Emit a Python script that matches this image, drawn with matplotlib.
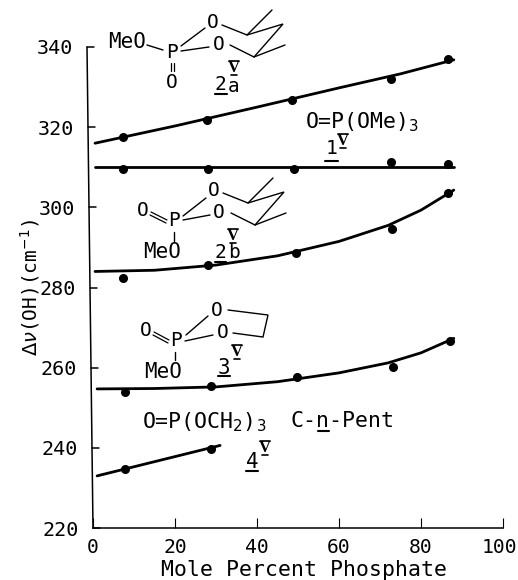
import matplotlib
matplotlib.use("Agg")
import matplotlib.pyplot as plt
from matplotlib.transforms import ScaledTranslation

W, H = 518, 580
FONT = "DejaVu Sans Mono"
plt.rcParams["font.family"] = [FONT, "DejaVu Sans"]
plt.rcParams["mathtext.fontset"] = "dejavusans"

# measured points
x_2a = [7.2, 27.7, 48.5, 72.8, 86.5]
y_2a = [317.5, 321.7, 326.7, 332.0, 337.0]
x_1 = [7.2, 28.0, 49.0, 72.8, 86.5]
y_1 = [309.5, 309.6, 309.6, 311.2, 310.8]
x_2b = [7.3, 28.0, 49.5, 73.0, 86.5]
y_2b = [282.3, 285.5, 288.6, 294.5, 303.5]
x_3 = [7.8, 28.7, 49.7, 73.2, 87.0]
y_3 = [254.0, 255.5, 257.7, 260.2, 266.7]
x_4 = [7.8, 28.7]
y_4 = [234.7, 239.7]

# drawn curves
cx_2a = [0.5, 20, 40, 60, 75, 88]
cy_2a = [316.0, 320.3, 325.0, 329.8, 333.3, 336.8]
cx_1 = [0.5, 88]
cy_1 = [310.0, 310.0]
cx_2b = [0.5, 15, 30, 45, 60, 72, 80, 88]
cy_2b = [284.0, 284.3, 285.6, 287.9, 291.5, 295.5, 299.3, 304.3]
cx_3 = [1, 15, 30, 45, 60, 72, 80, 88]
cy_3 = [254.7, 254.8, 255.2, 256.5, 258.7, 261.2, 263.7, 267.3]
cx_4 = [1, 31]
cy_4 = [233.0, 240.6]

xticks = [0, 20, 40, 60, 80, 100]
yticks = [220, 240, 260, 280, 300, 320, 340]

fig = plt.figure(figsize=(W / 100, H / 100), dpi=100)
L, R, T, B = 93, 503, 47, 528
ax = fig.add_axes([L / W, 1 - B / H, (R - L) / W, (B - T) / H])
ax.set_xlim(0, 100)
ax.set_ylim(220, 340)
for s in ("top", "right", "left"):
    ax.spines[s].set_visible(False)
ax.spines["bottom"].set_linewidth(1.1)
ax.set_xticks(xticks)
ax.set_yticks(yticks)
ax.tick_params(axis="x", direction="in", length=7, width=0.8, labelsize=14.2, pad=7)
ax.tick_params(axis="y", direction="in", length=0, labelsize=14.5, pad=10)
ax.set_xlabel("Mole Percent Phosphate", fontsize=15.5, labelpad=2)
ax.xaxis.label.set_x(0.515)
ax.set_ylabel(r"$\Delta\nu$(OH)(cm$^{-1}$)", fontsize=14, labelpad=-4)

# the printed axis leans: shift each y tick label with its height
for tick, v in zip(ax.yaxis.get_major_ticks(), yticks):
    off = ScaledTranslation(-(v - 220) / 120 * 6 / 100, 0, fig.dpi_scale_trans)
    tick.label1.set_transform(tick.label1.get_transform() + off)
last = ax.xaxis.get_major_ticks()[-1].label1
last.set_transform(last.get_transform() + ScaledTranslation(-0.035, 0, fig.dpi_scale_trans))

for cx, cy in [(cx_2a, cy_2a), (cx_1, cy_1), (cx_2b, cy_2b), (cx_3, cy_3), (cx_4, cy_4)]:
    ax.plot(cx, cy, color="black", lw=2.0, solid_capstyle="round", clip_on=False)
for px, py in [(x_2a, y_2a), (x_1, y_1), (x_2b, y_2b), (x_3, y_3), (x_4, y_4)]:
    ax.plot(px, py, "o", color="black", ms=5.5, ls="none", clip_on=False)

# overlay in image pixels for the drawn structures
ov = fig.add_axes([0, 0, 1, 1], facecolor="none")
ov.set_xlim(0, W)
ov.set_ylim(H, 0)
ov.axis("off")


def seg(*pts, lw=1.0):
    ov.plot([p[0] for p in pts], [p[1] for p in pts], color="black", lw=lw,
            solid_capstyle="round", solid_joinstyle="miter")


def txt(x, y, s, size=14, **kw):
    ov.text(x, y, s, fontsize=size, ha=kw.pop("ha", "center"), va="center", **kw)


def roman(x, y):
    ov.text(x, y, "V", fontsize=12, ha="center", va="center",
            family="Liberation Serif", weight="bold")
    seg((x - 5, y - 7), (x + 5, y - 7), lw=1.2)
    seg((x - 3, y + 7), (x + 3, y + 7), lw=1.2)


def under(x0, x1, y):
    seg((x0, y), (x1, y), lw=1.5)


def chair(o):
    (dx, dy) = o
    seg((222 + dx, 25 + dy), (247 + dx, 35 + dy), (283 + dx, 24 + dy),
        (254 + dx, 57 + dy), (230 + dx, 45 + dy))
    seg((247 + dx, 35 + dy), (272 + dx, 10 + dy))
    seg((254 + dx, 57 + dy), (285 + dx, 45 + dy))


# left axis line and its tick marks
seg((87, 47), (93, 528), lw=1.1)
for v in yticks:
    y_px = B - (v - 220) / 120 * (B - T)
    x_px = 93 - (v - 220) / 120 * 6
    seg((x_px, y_px), (x_px + 7, y_px), lw=1.1)

# 2a
txt(127, 42, "MeO", size=15)
txt(172, 52, "P")
txt(172, 83, "O")
seg((170.5, 63), (170.5, 71), lw=0.9)
seg((174, 63), (174, 71), lw=0.9)
txt(213, 22, "O")
txt(219, 45, "O")
seg((181, 46), (205, 28))
seg((181, 51), (209, 47))
seg((147, 45), (163, 50))
chair((0, 0))
roman(234, 68)
txt(220, 85, "2", size=14)
txt(234, 86, "a", size=14)
under(215, 227, 94)

# 1
txt(362, 122, "O=P(OMe)$_3$", size=15.5)
txt(331, 149, "1", size=14)
under(325, 338, 161)
roman(343, 141)

# 2b
txt(143, 210, "O")
txt(174, 220, "P")
seg((151, 212), (167, 220), lw=0.9)
seg((150, 215), (166, 223), lw=0.9)
seg((174, 232), (174, 241))
txt(162, 252, "MeO", size=15)
txt(214, 190, "O")
txt(219, 213, "O")
seg((183, 216), (206, 198))
seg((183, 220), (210, 215))
chair((1, 168))
roman(233, 236)
txt(220, 253, "2", size=14)
txt(234, 253, "b", size=14)
under(215, 226, 262)

# 3
txt(146, 330, "O")
txt(176, 340, "P")
seg((154, 332), (169, 340), lw=0.9)
seg((153, 335), (168, 343), lw=0.9)
seg((175, 352), (175, 360))
txt(163, 372, "MeO", size=15)
txt(217, 310, "O")
txt(223, 333, "O")
seg((186, 335), (208, 316))
seg((185, 341), (213, 335))
seg((228, 310), (268, 315), (263, 337), (233, 333))
txt(224, 368, "3", size=15)
under(218, 230, 376)
roman(237, 352)

# 4
txt(142, 422, "O=P(OCH$_2$)$_3$", size=15.5, ha="left")
txt(290, 421, "C-n-Pent", size=15.5, ha="left")
under(318, 329, 431)
txt(252, 462, "4", size=15)
under(246, 258, 471)
roman(265, 448)

fig.savefig("out.png", dpi=100)
